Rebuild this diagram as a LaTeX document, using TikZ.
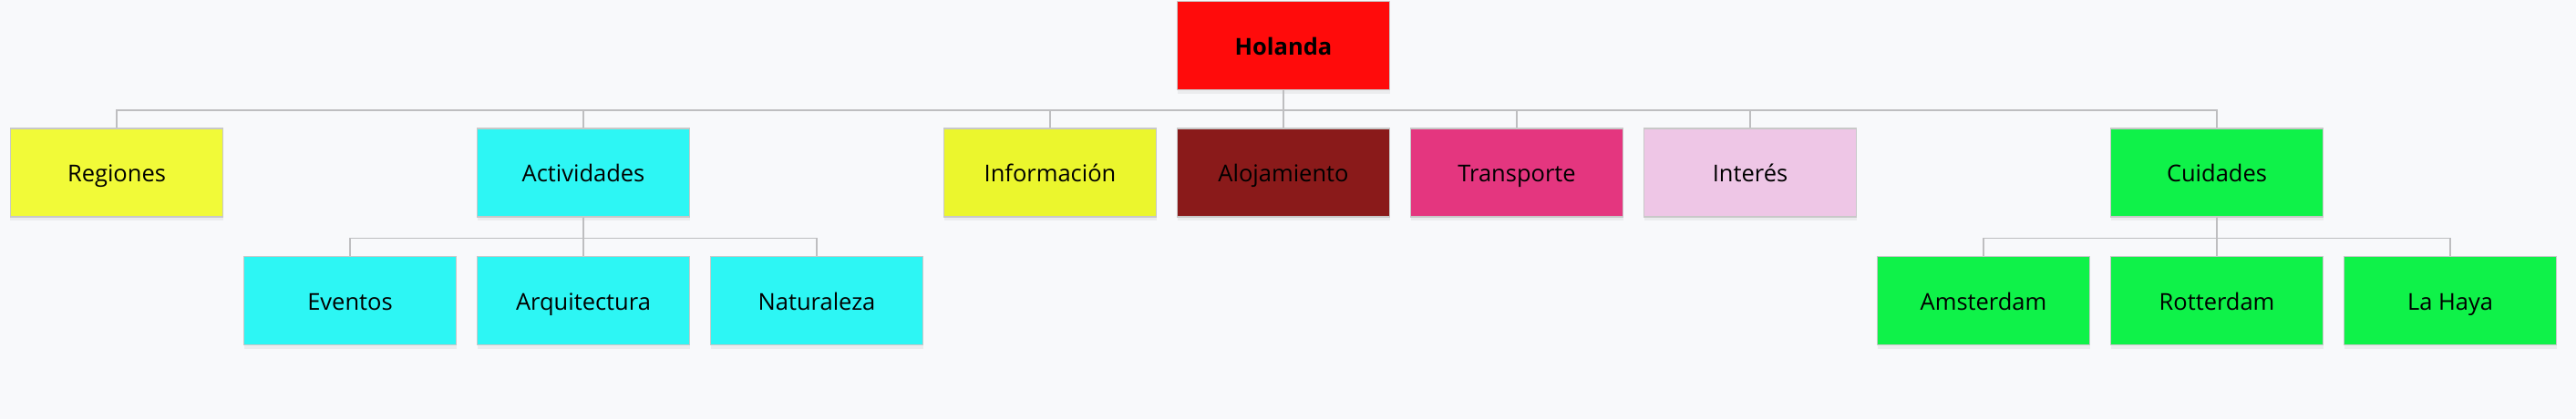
\documentclass[tikz,border=0pt]{standalone}
\usepackage{fontspec}
\setmainfont{Open Sans}
\usepackage{xcolor}
\usetikzlibrary{shadows}

\definecolor{bgcol}{HTML}{F8F9FB}
\definecolor{edgecol}{HTML}{C8C8C8}
\definecolor{linkcol}{HTML}{BEBEC0}
\definecolor{rootred}{HTML}{FF0B0B}
\definecolor{yelA}{HTML}{F1FA38}
\definecolor{yelB}{HTML}{EBF62D}
\definecolor{cyanbox}{HTML}{2DF6F4}
\definecolor{darkred}{HTML}{8A1A1A}
\definecolor{pinkbox}{HTML}{E4367F}
\definecolor{lilac}{HTML}{EEC6E6}
\definecolor{greenbox}{HTML}{0FF249}

\tikzset{
    topic/.style={draw=edgecol, line width=0.03cm, minimum width=4.66cm,
        minimum height=1.94cm, inner sep=0pt, align=center,
        text height=15pt, text depth=3.3pt,
        font=\fontsize{14.5}{17}\selectfont,
        drop shadow={opacity=0.10, shadow xshift=0pt, shadow yshift=-0.08cm}},
    link/.style={draw=linkcol, line width=0.03cm}
}

\begin{document}
\begin{tikzpicture}

    % 1. Background and fixed margins
    \fill[bgcol] (0,0) rectangle (56.52,-9.2);
    \useasboundingbox (0,0) rectangle (56.52,-9.2);

    % 2. Root
    \node[topic, fill=rootred, font=\fontsize{14.5}{17}\selectfont\bfseries] (hol) at (28.16,-1.0) {Holanda};

    % 3. First level
    \node[topic, fill=yelA]     (reg) at (2.56,-3.79)  {Regiones};
    \node[topic, fill=cyanbox]  (act) at (12.8,-3.79)  {Actividades};
    \node[topic, fill=yelB]     (inf) at (23.04,-3.79) {Información};
    \node[topic, fill=darkred]  (alo) at (28.16,-3.79) {Alojamiento};
    \node[topic, fill=pinkbox]  (tra) at (33.28,-3.79) {Transporte};
    \node[topic, fill=lilac]    (int) at (38.4,-3.79)  {Interés};
    \node[topic, fill=greenbox] (cui) at (48.64,-3.79) {Cuidades};

    % 4. Second level
    \node[topic, fill=cyanbox]  (eve) at (7.68,-6.6)  {Eventos};
    \node[topic, fill=cyanbox]  (arq) at (12.8,-6.6)  {Arquitectura};
    \node[topic, fill=cyanbox]  (nat) at (17.92,-6.6) {Naturaleza};
    \node[topic, fill=greenbox] (ams) at (43.52,-6.6) {Amsterdam};
    \node[topic, fill=greenbox] (rot) at (48.64,-6.6) {Rotterdam};
    \node[topic, fill=greenbox] (hay) at (53.76,-6.6) {La Haya};

    % 5. Connectors (elbow lines through a bus)
    \foreach \n in {reg,act,inf,alo,tra,int,cui}
        \draw[link] (hol.south) -- ++(0,-0.43) -| (\n.north);
    \foreach \n in {eve,arq,nat}
        \draw[link] (act.south) -- ++(0,-0.45) -| (\n.north);
    \foreach \n in {ams,rot,hay}
        \draw[link] (cui.south) -- ++(0,-0.45) -| (\n.north);

\end{tikzpicture}
\end{document}
